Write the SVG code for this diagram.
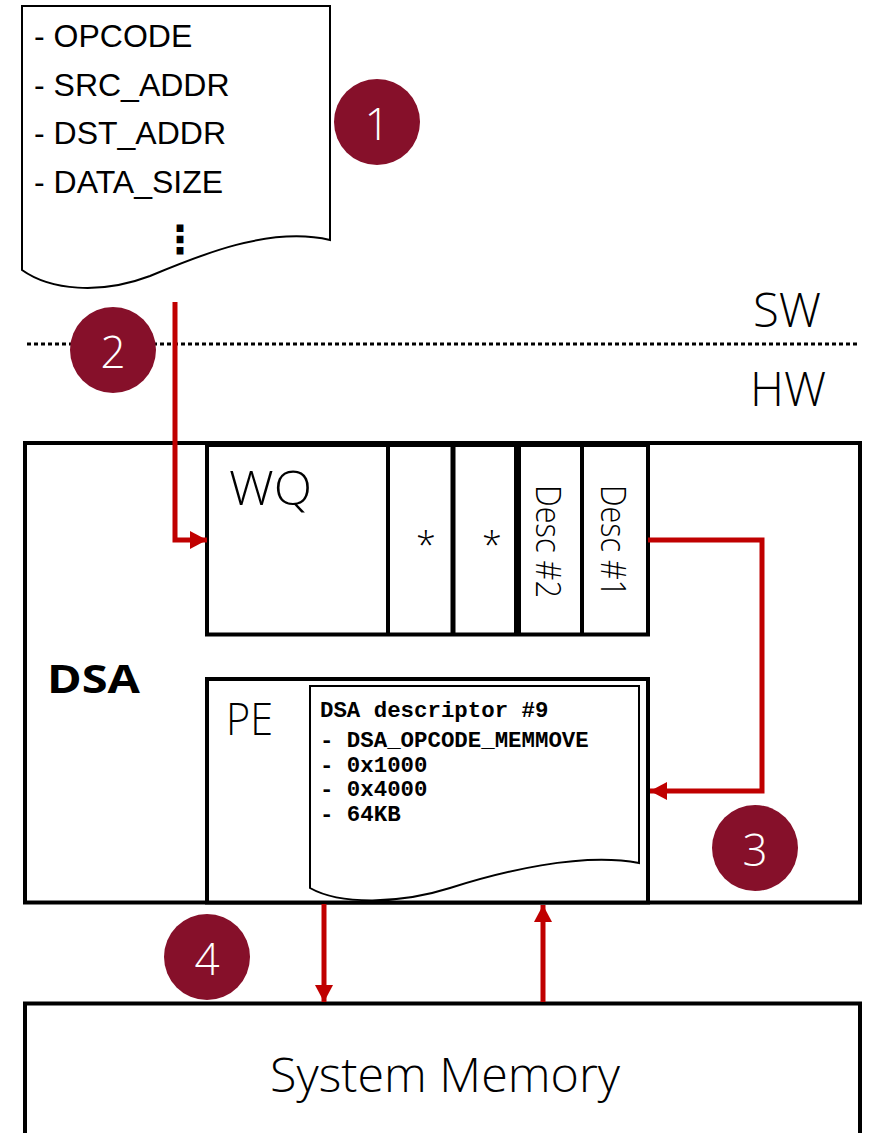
<svg xmlns="http://www.w3.org/2000/svg" width="872" height="1133" viewBox="0 0 872 1133">
<defs>
<style>
.box{fill:#fff;stroke:#000;stroke-width:4}
.doc{fill:#fff;stroke:#000;stroke-width:2}
.ln{stroke:#000;fill:none}
.red{stroke:#c00000;stroke-width:5;fill:none}
.badge{fill:#86102a}
.num{fill:#fff;font-family:"Open Sans","Noto Sans",sans-serif;font-weight:300;font-size:44px;text-anchor:middle}
.seg{font-family:"Open Sans","Noto Sans",sans-serif;font-weight:300;fill:#000}
.arial{font-family:"Liberation Sans",Arial,sans-serif;font-size:32px;fill:#000}
.mono{font-family:"Liberation Mono","Courier New",monospace;font-weight:bold;font-size:22.4px;fill:#000}
</style>
<marker id="ah" markerUnits="userSpaceOnUse" markerWidth="18" markerHeight="18" viewBox="0 0 18 18" refX="17" refY="9" orient="auto">
<path d="M0,0 L17,9 L0,18 Z" fill="#c00000"/>
</marker>
</defs>

<g id="sw-doc">
<path class="doc" d="M22,6 H330 V240 C270,226 200,255 150,276 C100,295 50,290 22,270 Z"/>
<text class="arial" x="34" y="47">- OPCODE</text>
<text class="arial" x="34" y="95.5">- SRC_ADDR</text>
<text class="arial" x="34" y="144">- DST_ADDR</text>
<text class="arial" x="34" y="192.5">- DATA_SIZE</text>
<text x="180" y="253" font-family="DejaVu Sans,sans-serif" font-weight="bold" font-size="39" text-anchor="middle">⋮</text>
</g>

<g id="divider">
<line x1="27" y1="344" x2="860" y2="344" stroke="#000" stroke-width="3" stroke-dasharray="4 3"/>
<text class="seg" x="753" y="327" font-size="47" textLength="68" lengthAdjust="spacingAndGlyphs">SW</text>
<text class="seg" x="750" y="406" font-size="47" textLength="76" lengthAdjust="spacingAndGlyphs">HW</text>
</g>

<g id="dsa">
<rect class="box" x="25" y="443" width="835" height="459.5"/>
<text x="47" y="693" font-family="Open Sans,Noto Sans,sans-serif" font-weight="bold" font-size="39" textLength="93" lengthAdjust="spacingAndGlyphs">DSA</text>
</g>

<g id="wq">
<rect class="box" x="207" y="445" width="441" height="189.5"/>
<line class="ln" x1="388" y1="445" x2="388" y2="634" stroke-width="4"/>
<line class="ln" x1="453" y1="445" x2="453" y2="634" stroke-width="5"/>
<line class="ln" x1="517.5" y1="445" x2="517.5" y2="634" stroke-width="7"/>
<line class="ln" x1="582" y1="445" x2="582" y2="634" stroke-width="4"/>
<text class="seg" x="229" y="505" font-size="47" textLength="83" lengthAdjust="spacingAndGlyphs">WQ</text>
<text class="seg" x="426" y="558" font-size="36" text-anchor="middle">*</text>
<text class="seg" x="492" y="558" font-size="36" text-anchor="middle">*</text>
<text class="seg" transform="translate(536,485) rotate(90)" font-size="35" textLength="113" lengthAdjust="spacingAndGlyphs">Desc #2</text>
<text class="seg" transform="translate(601,485) rotate(90)" font-size="35" textLength="112" lengthAdjust="spacingAndGlyphs">Desc #1</text>
</g>

<g id="pe">
<rect class="box" x="207" y="679" width="441" height="223.5"/>
<text class="seg" x="226" y="735" font-size="44" textLength="47" lengthAdjust="spacingAndGlyphs">PE</text>
<path class="doc" d="M310,686 H639 V863 C580,852 500,872 450,888 C400,904 340,905 310,888 Z"/>
<text class="mono" x="320" y="717">DSA descriptor #9</text>
<text class="mono" x="320" y="747">- DSA_OPCODE_MEMMOVE</text>
<text class="mono" x="320" y="772">- 0x1000</text>
<text class="mono" x="320" y="796">- 0x4000</text>
<text class="mono" x="320" y="821">- 64KB</text>
</g>

<g id="system-memory">
<rect class="box" x="25" y="1003.5" width="835" height="200"/>
<text class="seg" x="270" y="1092" font-size="47" textLength="350" lengthAdjust="spacingAndGlyphs">System Memory</text>
</g>

<g id="connectors">
<path class="red" d="M175,302 V540 H207" marker-end="url(#ah)"/>
<path class="red" d="M648,540 H762 V791 H650" marker-end="url(#ah)"/>
<path class="red" d="M324,904 V1002" marker-end="url(#ah)"/>
<path class="red" d="M543,1002 V905" marker-end="url(#ah)"/>
</g>

<g id="badges">
<circle class="badge" cx="377" cy="122" r="43"/>
<text class="num" x="377" y="140">1</text>
<circle class="badge" cx="113" cy="350" r="43"/>
<text class="num" x="113" y="368">2</text>
<circle class="badge" cx="755" cy="848" r="43"/>
<text class="num" x="755" y="866">3</text>
<circle class="badge" cx="207" cy="957" r="43"/>
<text class="num" x="207" y="975">4</text>
</g>
</svg>
